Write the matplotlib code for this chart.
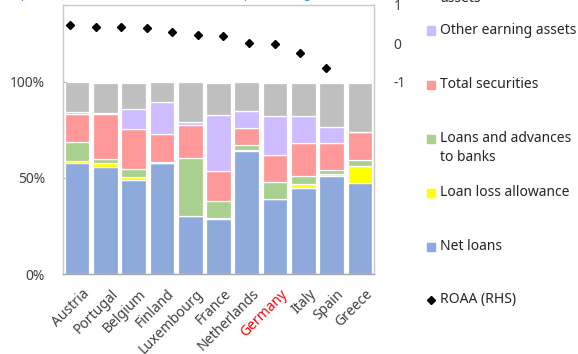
import matplotlib
matplotlib.use('Agg')
import matplotlib.pyplot as plt
from matplotlib.patches import Rectangle
from matplotlib.lines import Line2D
import matplotlib.transforms as mtransforms
import numpy as np

plt.rcParams['font.family'] = ['Noto Sans', 'DejaVu Sans']

countries = ['Austria', 'Portugal', 'Belgium', 'Finland', 'Luxembourg', 'France',
             'Netherlands', 'Germany', 'Italy', 'Spain', 'Greece']
net_loans = [0.577, 0.556, 0.491, 0.577, 0.304, 0.285, 0.642, 0.389, 0.449, 0.509, 0.472]
loan_loss = [0.013, 0.024, 0.012, 0.0, 0.0, 0.006, 0.005, 0.0, 0.018, 0.013, 0.088]
loans_banks = [0.096, 0.018, 0.043, 0.005, 0.300, 0.089, 0.022, 0.089, 0.045, 0.018, 0.034]
securities = [0.147, 0.236, 0.207, 0.146, 0.172, 0.156, 0.089, 0.142, 0.172, 0.142, 0.143]
other_earning = [0.012, 0.003, 0.106, 0.165, 0.016, 0.294, 0.089, 0.202, 0.138, 0.082, 0.0]
non_earning = [0.155, 0.156, 0.137, 0.106, 0.205, 0.166, 0.153, 0.174, 0.174, 0.232, 0.258]
roaa = [0.48, 0.42, 0.42, 0.40, 0.30, 0.22, 0.19, 0.02, -0.01, -0.26, -0.65]

series = [
    ('Net loans', net_loans, '#8EA9DB'),
    ('Loan loss allowance', loan_loss, '#FFFF00'),
    ('Loans and advances\nto banks', loans_banks, '#A9D08E'),
    ('Total securities', securities, '#FF9999'),
    ('Other earning assets', other_earning, '#CFBBFF'),
    ('Non-earning\nassets', non_earning, '#BFBFBF'),
]
left_ticks = [0, 0.5, 1.0]
left_ticklabels = ['0%', '50%', '100%']
right_ticks = [-1, 0, 1]
right_ticklabels = ['-1', '0', '1']

W, H = 578, 354
fig = plt.figure(figsize=(W / 100, H / 100), dpi=100)
ax_l, ax_r, ax_b, ax_t = 63, 374, 274, 5
pos = [ax_l / W, 1 - ax_b / H, (ax_r - ax_l) / W, (ax_b - ax_t) / H]
ax = fig.add_axes(pos)

x = np.arange(len(countries))
bottom = np.zeros(len(countries))
for name, vals, col in series:
    ax.bar(x, vals, bottom=bottom, width=0.87, color=col, edgecolor='white', linewidth=0.9)
    bottom += np.array(vals)

ax.set_xlim(-0.5, len(countries) - 0.5)
ax.set_ylim(0, 1.40)
ax.set_yticks(left_ticks)
ax.set_yticklabels(left_ticklabels)
ax.tick_params(axis='y', direction='in', length=3, color='#BFBFBF', pad=13,
               labelsize=10, labelcolor='#404040')
ax.set_xticks(x)
ax.set_xticklabels(countries, rotation=45, ha='right', rotation_mode='anchor')
ax.tick_params(axis='x', length=0, pad=9, labelsize=10, labelcolor='#404040')
offset = mtransforms.ScaledTranslation(5 / 100, 0, fig.dpi_scale_trans)
for lbl in ax.get_xticklabels():
    lbl.set_transform(lbl.get_transform() + offset)
ax.get_xticklabels()[countries.index('Germany')].set_color('red')
for s in ['left', 'top', 'right']:
    ax.spines[s].set_color('#C8C8C8')
ax.spines['bottom'].set_color('#A6A6A6')
for s in ax.spines.values():
    s.set_linewidth(1.0)

ax2 = fig.add_axes(pos)
ax2.patch.set_visible(False)
ax2.plot(np.arange(len(roaa)), roaa, linestyle='none', marker='D', markersize=4.2,
         color='black')
ax2.set_xlim(-0.274, 11.89)
ax2.set_ylim(-6, 1)
ax2.xaxis.set_visible(False)
ax2.yaxis.tick_right()
ax2.set_yticks(right_ticks)
ax2.set_yticklabels(right_ticklabels)
ax2.tick_params(axis='y', length=0, pad=14, labelsize=10, labelcolor='#404040')
for lbl in ax2.get_yticklabels():
    lbl.set_horizontalalignment('left')
for s in ax2.spines.values():
    s.set_visible(False)

# legend (manual, top-aligned at fixed pitch)
legend_order = list(reversed(series))
first_y = -24
pitch = 54
line_h = 19
for i, (name, vals, col) in enumerate(legend_order):
    yc = first_y + i * pitch
    lh = line_h + (3 if i == 0 else 0)
    fig.patches.append(Rectangle((427 / W, 1 - (yc + 4.5) / H), 8 / W, 8 / H,
                                 transform=fig.transFigure, color=col, figure=fig))
    for j, line in enumerate(name.split('\n')):
        fig.text(440 / W, 1 - (yc + j * lh) / H, line, va='center', ha='left',
                 fontsize=10, color='#262626')
yc = first_y + len(legend_order) * pitch
fig.lines.append(Line2D([431 / W], [1 - yc / H], transform=fig.transFigure,
                        marker='D', markersize=4, color='black', linestyle='none'))
fig.text(440 / W, 1 - yc / H, 'ROAA (RHS)', va='center', ha='left', fontsize=10,
         color='#262626')

# cropped subtitle (only descenders visible)
fig.text(2 / W, 1 + 2.5 / H, '(In percent of total assets, 2015; ROAA in percent, right-hand scale)',
         va='baseline', ha='left', fontsize=9, color='#4A8FD8')

fig.savefig('out.png', dpi=100)
